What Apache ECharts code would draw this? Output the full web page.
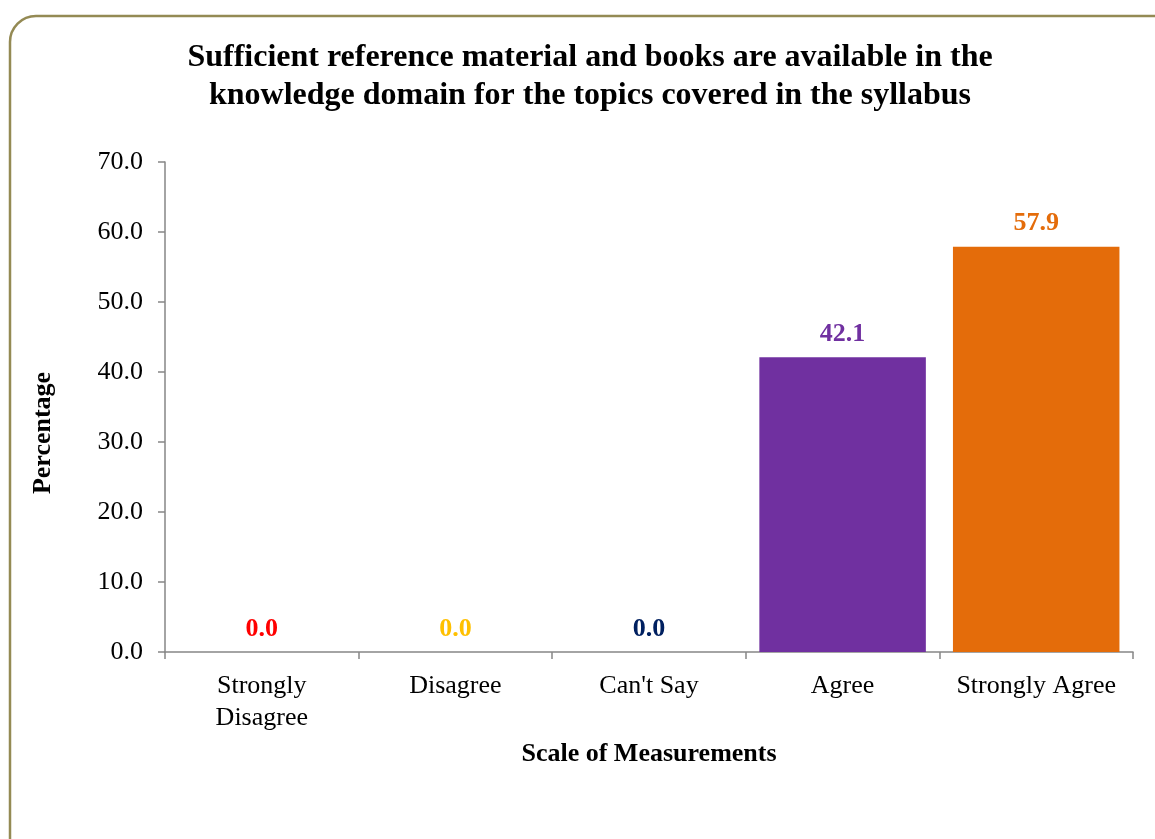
<!DOCTYPE html>
<html>
<head>
<meta charset="utf-8">
<script src="https://cdn.jsdelivr.net/npm/echarts@6/dist/echarts.min.js"></script>
<style>
html,body{margin:0;padding:0;background:#fff;}
#c{width:1155px;height:839px;}
</style>
</head>
<body>
<div id="c"></div>
<script>
const categories = ['Strongly\nDisagree', 'Disagree', "Can't Say", 'Agree', 'Strongly Agree'];
const values = [0.0, 0.0, 0.0, 42.1, 57.9];
const barColors = ['#FF0000', '#FFC000', '#002060', '#7030A0', '#E46C0A'];
const titleText = 'Sufficient reference material and books are available in the\nknowledge domain for the topics covered in the syllabus';

const serif = '"Liberation Serif", "Times New Roman", serif';
const chart = echarts.init(document.getElementById('c'));
chart.setOption({
  animation: false,
  backgroundColor: '#fff',
  graphic: [{
    type: 'rect',
    shape: { x: 10, y: 16, width: 1220, height: 900, r: 26 },
    style: { fill: 'none', stroke: '#948A54', lineWidth: 2.5 },
    z: 0
  }],
  title: {
    text: titleText,
    left: 585, textAlign: 'center', top: 34,
    textStyle: { fontFamily: serif, fontWeight: 'bold', fontSize: 32, lineHeight: 38, color: '#000' }
  },
  grid: { left: 165, right: 22, top: 162, bottom: 187 },
  xAxis: {
    type: 'category',
    data: categories,
    name: 'Scale of Measurements',
    nameLocation: 'middle',
    nameGap: 89,
    nameTextStyle: { fontFamily: serif, fontWeight: 'bold', fontSize: 26, color: '#000' },
    axisLine: { lineStyle: { color: '#868686', width: 1.5 } },
    axisTick: { show: true, interval: 0, length: 7, lineStyle: { color: '#868686', width: 1.5 } },
    axisLabel: { interval: 0, fontFamily: serif, fontSize: 26, color: '#000', margin: 18, lineHeight: 32 }
  },
  yAxis: {
    type: 'value',
    min: 0, max: 70, interval: 10,
    name: 'Percentage',
    nameLocation: 'middle',
    nameRotate: 90,
    nameGap: 109,
    nameTextStyle: { fontFamily: serif, fontWeight: 'bold', fontSize: 26, color: '#000',
      padding: [0, 52, 0, 0] },
    splitLine: { show: false },
    axisLine: { show: true, lineStyle: { color: '#868686', width: 1.5 } },
    axisTick: { show: true, length: 7, lineStyle: { color: '#868686', width: 1.5 } },
    axisLabel: { fontFamily: serif, fontSize: 26, color: '#000', margin: 22,
      formatter: v => v.toFixed(1) }
  },
  series: [{
    type: 'bar',
    data: values.map((v, i) => ({ value: v, itemStyle: { color: barColors[i] },
      label: { color: barColors[i] } })),
    barCategoryGap: '14%',
    label: {
      show: true, position: 'top', distance: 10,
      fontFamily: serif, fontWeight: 'bold', fontSize: 26,
      formatter: p => p.value.toFixed(1)
    }
  }]
});
</script>
</body>
</html>
